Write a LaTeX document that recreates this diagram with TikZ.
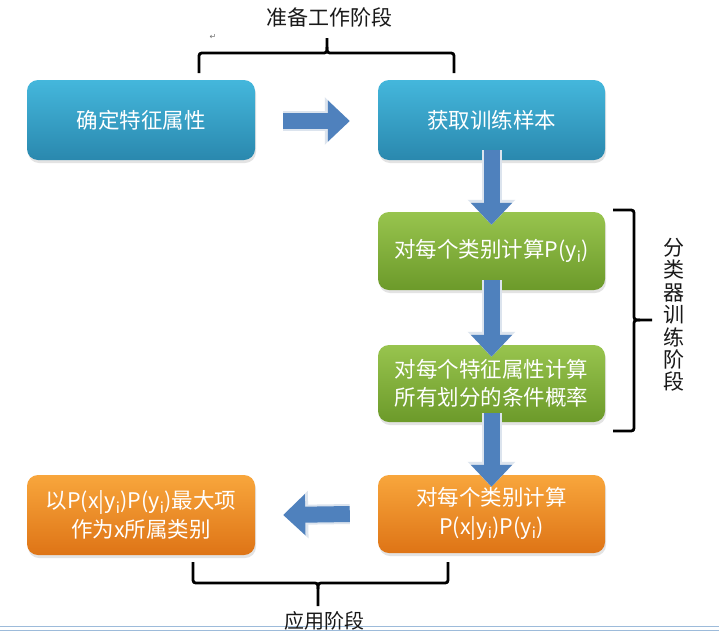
\documentclass[tikz,border=0pt]{standalone}
\usepackage{fontspec}
\setmainfont{Noto Sans CJK SC}
\newfontfamily\dejavu{DejaVu Sans}
\usetikzlibrary{arrows.meta,shadows}
\definecolor{bluetop}{HTML}{44B7DC}
\definecolor{bluebot}{HTML}{2A88AE}
\definecolor{greentop}{HTML}{98C44E}
\definecolor{greenbot}{HTML}{6C9A2A}
\definecolor{orangetop}{HTML}{F8A63C}
\definecolor{orangebot}{HTML}{DE7416}
\definecolor{arrowblue}{HTML}{4F81BD}
\definecolor{haloc}{HTML}{DCE4EE}
\definecolor{linec}{HTML}{9DBBDA}
\begin{document}
\begin{tikzpicture}[x=1pt,y=-1pt,
  box/.style={rounded corners=11pt, minimum width=227pt, inner sep=0pt, text=white, align=center,
    font=\fontsize{21.5}{28.5}\selectfont,
    drop shadow={opacity=0.22, shadow xshift=1pt, shadow yshift=-3pt}},
  bluebox/.style={box, top color=bluetop, bottom color=bluebot},
  greenbox/.style={box, top color=greentop, bottom color=greenbot},
  orangebox/.style={box, top color=orangetop, bottom color=orangebot},
  barrow/.style={line width=16pt, draw=arrowblue, -{Triangle[width=40pt,length=22pt]}},
  bhalo/.style={line width=20pt, draw=haloc, -{Triangle[width=46pt,length=25pt]}},
  bracestyle/.style={line width=2.8pt, black, line join=round},
  label/.style={font=\fontsize{21}{22.4}\selectfont, text=black!90, align=center, inner sep=0pt}
]
\useasboundingbox (0,0) rectangle (719,632);
\fill[white] (0,0) rectangle (719,632);

% boxes
\node[bluebox, minimum width=228pt, minimum height=80pt] (b1) at (141,120) {确定特征属性};
\node[bluebox, minimum height=80pt] (b2) at (491.5,120) {获取训练样本};
\node[greenbox, minimum height=78pt] (g1) at (491.5,251) {对每个类别计算P(y\textsubscript{i})};
\node[greenbox, minimum height=77pt] (g2) at (491.5,383.5) {对每个特征属性计算\\所有划分的条件概率};
\node[orangebox, minimum height=78pt] (o2) at (491.5,514) {对每个类别计算\\P(x|y\textsubscript{i})P(y\textsubscript{i})};
\node[orangebox, minimum width=228pt, minimum height=80pt] (o1) at (141,515) {以P(x|y\textsubscript{i})P(y\textsubscript{i})最大项\\作为x所属类别};

% block arrows
\draw[bhalo] ([xshift=28pt,yshift=-1pt]b1.east) -- ([xshift=-28pt,yshift=-1pt]b2.west);
\draw[barrow] ([xshift=28pt,yshift=-1pt]b1.east) -- ([xshift=-28pt,yshift=-1pt]b2.west);
\draw[bhalo] ([yshift=10pt]b2.south) -- ([yshift=-13pt]g1.north);
\draw[barrow] ([yshift=10pt]b2.south) -- ([yshift=-13pt]g1.north);
\draw[bhalo] ([yshift=10pt]g1.south) -- ([yshift=-12pt]g2.north);
\draw[barrow] ([yshift=10pt]g1.south) -- ([yshift=-12pt]g2.north);
\draw[bhalo] ([yshift=9pt]g2.south) -- ([yshift=-12pt]o2.north);
\draw[barrow] ([yshift=9pt]g2.south) -- ([yshift=-12pt]o2.north);
\draw[bhalo] ([xshift=-28pt]o2.west) -- ([xshift=28pt]o1.east);
\draw[barrow] ([xshift=-28pt]o2.west) -- ([xshift=28pt]o1.east);

% top brace
\draw[bracestyle] (199,73) -- (199,59) .. controls (199,53) .. (205,53) -- (321,53) .. controls (327,53) .. (327,47) -- (327,38);
\draw[bracestyle] (454,73) -- (454,59) .. controls (454,53) .. (448,53) -- (333,53) .. controls (327,53) .. (327,47);
\node[label] (toplab) at (329,17) {准备工作阶段};
\node[font=\dejavu\fontsize{8}{8}\selectfont, text=black!55] (pm) at (213,37) {↵};

% right brace
\draw[bracestyle] (613,210) -- (628,210) .. controls (634,210) .. (634,216) -- (634,314) .. controls (634,320) .. (640,320) -- (652,320);
\draw[bracestyle] (613,431) -- (628,431) .. controls (634,431) .. (634,425) -- (634,326) .. controls (634,320) .. (640,320);
\node[label] (rightlab) at (674,315) {分\\类\\器\\训\\练\\阶\\段};

% bottom lines
\draw[linec, line width=1pt] (0,626) -- (719,626);
\draw[linec, line width=1pt] (0,630.5) -- (719,630.5);

% bottom brace
\draw[bracestyle] (193,562) -- (193,577) .. controls (193,583) .. (199,583) -- (312,583) .. controls (318,583) .. (318,589) -- (318,606);
\draw[bracestyle] (448,562) -- (448,577) .. controls (448,583) .. (442,583) -- (324,583) .. controls (318,583) .. (318,589);
\node[label, font=\fontsize{20}{22}\selectfont] (botlab) at (324,620.5) {应用阶段};
\end{tikzpicture}
\end{document}
